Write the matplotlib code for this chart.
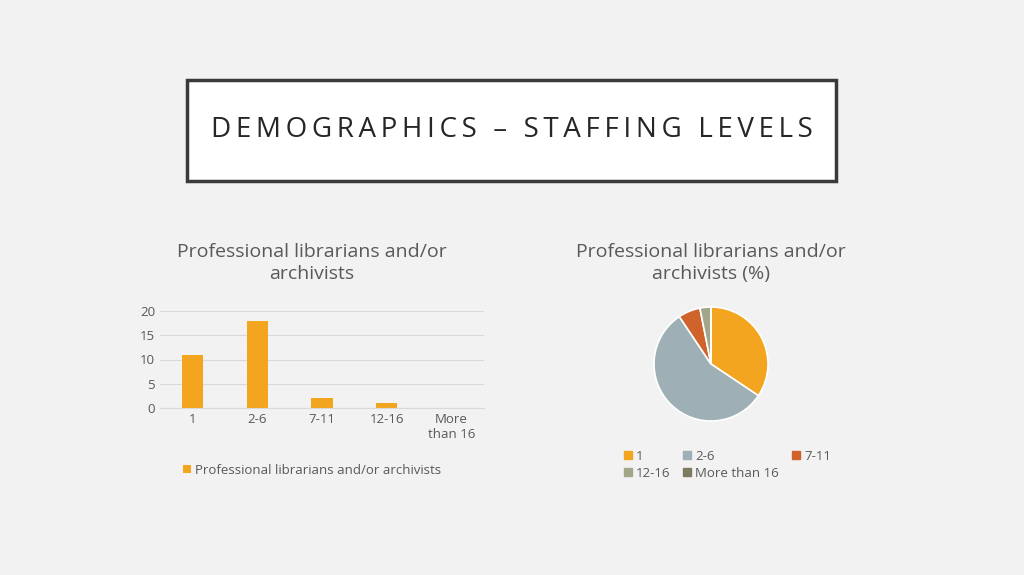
import matplotlib
matplotlib.use("Agg")
import matplotlib.pyplot as plt
from matplotlib.patches import Rectangle

plt.rcParams['font.family'] = ['Open Sans', 'DejaVu Sans']

categories = ['1', '2-6', '7-11', '12-16', 'More\nthan 16']
legend_labels = ['1', '2-6', '7-11', '12-16', 'More than 16']
values = [11, 18, 2, 1, 0]
yticks = [0, 5, 10, 15, 20]
pie_colors = ['#F4A51F', '#9EAFB5', '#D0622C', '#A3A78A', '#7D7A5F']
bar_color = '#F4A51F'
txt = '#595959'

W, H = 1024, 575
fig = plt.figure(figsize=(W/100, H/100), dpi=100, facecolor='#F2F2F2')

# title box
fig.patches.append(Rectangle((187/W, 1-181/H), (836-187)/W, (181-80)/H, transform=fig.transFigure,
                             facecolor='white', edgecolor='#3a3a3a', linewidth=2.5))
title = 'DEMOGRAPHICS – STAFFING LEVELS'
fig.text(512/W, 1-130/H, '\u2009'.join(title), ha='center', va='center', fontsize=20, color='#262626')

# bar chart
ax = fig.add_axes([160/W, 1-408/H, (484-160)/W, (408-311)/H])
ax.set_facecolor('#F2F2F2')
x = range(len(categories))
ax.bar(x, values, width=0.33, color=bar_color, label='Professional librarians and/or archivists')
ax.set_ylim(0, 20)
ax.set_xlim(-0.5, 4.5)
ax.set_yticks(yticks)
ax.set_xticks(list(x))
ax.set_xticklabels(categories)
ax.tick_params(length=0, colors=txt, labelsize=9.5)
ax.grid(axis='y', color='#D9D9D9', linewidth=0.8)
ax.set_axisbelow(True)
for s in ['top', 'right', 'left']:
    ax.spines[s].set_visible(False)
ax.spines['bottom'].set_color('#D9D9D9')
fig.text(312/W, 1-263/H, 'Professional librarians and/or\narchivists', ha='center', va='center',
         fontsize=14, color=txt, linespacing=1.35)
ax.legend(loc='upper center', bbox_to_anchor=(0.47, -0.45), frameon=False, fontsize=9.5,
          handlelength=0.6, handleheight=0.6, labelcolor=txt, handletextpad=0.3)

# pie chart
r = 57
pax = fig.add_axes([(711-r)/W, 1-(364+r)/H, 2*r/W, 2*r/H])
pax.pie(values, colors=pie_colors, startangle=90, counterclock=False,
        wedgeprops=dict(edgecolor='white', linewidth=1.2))
pax.set_xlim(-1, 1)
pax.set_ylim(-1, 1)
pax.set_aspect('auto')
fig.text(711/W, 1-263/H, 'Professional librarians and/or\narchivists (%)', ha='center', va='center',
         fontsize=14, color=txt, linespacing=1.35)
handles = [Rectangle((0, 0), 1, 1, color=c) for c in pie_colors]
order = [0, 3, 1, 4, 2]
fig.legend([handles[i] for i in order], [legend_labels[i] for i in order],
           loc='upper left', bbox_to_anchor=(612/W, 1-438/H), ncol=3,
           frameon=False, fontsize=9.5, handlelength=0.6, handleheight=0.6, labelcolor=txt,
           handletextpad=0.3, columnspacing=1.0, labelspacing=0.3)

fig.savefig('out.png', dpi=100, facecolor=fig.get_facecolor())
